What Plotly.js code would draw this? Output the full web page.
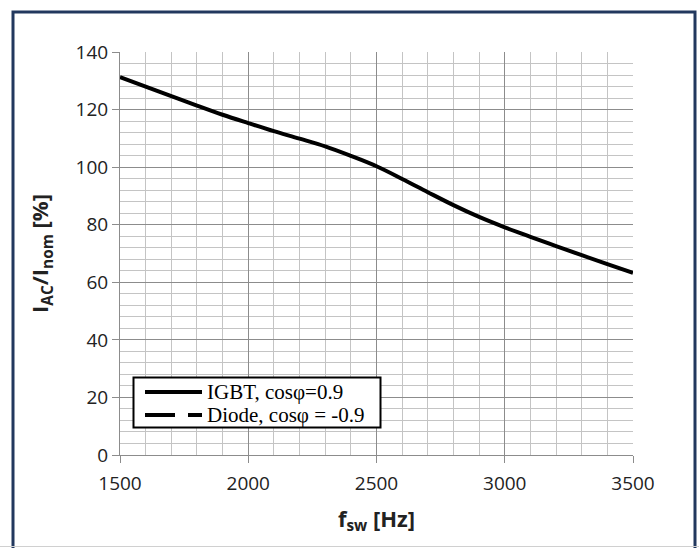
<!DOCTYPE html>
<html>
<head>
<meta charset="utf-8">
<script src="https://cdn.plot.ly/plotly-3.0.1.min.js"></script>
<style>
html,body{margin:0;padding:0;background:#fff;}
#chart{width:699px;height:548px;}
</style>
</head>
<body>
<div id="chart"></div>
<script>
// Data
const fsw = [1500, 1600, 1700, 1800, 1900, 2000, 2100, 2200, 2300, 2400, 2500, 2600, 2700, 2800, 2900, 3000, 3100, 3200, 3300, 3400, 3500];
const igbt = [131.3, 128.0, 124.7, 121.4, 118.2, 115.3, 112.5, 109.9, 107.2, 103.9, 100.3, 95.9, 91.3, 86.8, 82.7, 79.1, 75.8, 72.6, 69.4, 66.3, 63.3];
const diode = fsw.map(() => null); // curve not visible in the reference
const seriesNames = ['IGBT, cos\u03c6=0.9', 'Diode, cos\u03c6 = -0.9'];
const xTicks = [1500, 2000, 2500, 3000, 3500];
const yTicks = [0, 20, 40, 60, 80, 100, 120, 140];

const traces = [
  {x: fsw, y: diode, name: seriesNames[1], mode: 'lines', showlegend: false,
   line: {color: '#000', width: 4, dash: '30px,13px'}},
  {x: fsw, y: igbt, name: seriesNames[0], mode: 'lines', showlegend: false,
   line: {color: '#000', width: 4, shape: 'spline', smoothing: 1}}
];

const L = 120, R = 633, T = 52, B = 455;
const W = R - L, H = B - T;
const px = p => (p - L) / W;
const py = p => (B - p) / H;

// legend (drawn in paper coordinates)
const legBox = {x0: 133.5, x1: 380.5, y0: 377.5, y1: 427.5};
const rowY = [392, 415];
const legendShapes = [
  {type: 'rect', xref: 'paper', yref: 'paper',
   x0: px(legBox.x0), x1: px(legBox.x1), y0: py(legBox.y1), y1: py(legBox.y0),
   line: {color: '#000', width: 2}, fillcolor: '#fff', layer: 'above'},
  {type: 'line', xref: 'paper', yref: 'paper', x0: px(145), x1: px(202), y0: py(rowY[0]), y1: py(rowY[0]),
   line: {color: '#000', width: 4}, layer: 'above'},
  {type: 'line', xref: 'paper', yref: 'paper', x0: px(145), x1: px(175), y0: py(rowY[1]), y1: py(rowY[1]),
   line: {color: '#000', width: 4}, layer: 'above'},
  {type: 'line', xref: 'paper', yref: 'paper', x0: px(188), x1: px(202), y0: py(rowY[1]), y1: py(rowY[1]),
   line: {color: '#000', width: 4}, layer: 'above'}
];
const legendAnns = seriesNames.map((n, i) => ({
  text: n, xref: 'paper', yref: 'paper', x: px(205), y: py(rowY[i]),
  xanchor: 'left', yanchor: 'middle', showarrow: false,
  font: {family: 'Liberation Serif, Times New Roman, serif', size: 21, color: '#000'}
}));

const layout = {
  width: 699, height: 548,
  margin: {l: L, r: 699 - R, t: T, b: 548 - B},
  paper_bgcolor: '#fff', plot_bgcolor: '#fff',
  font: {family: 'Open Sans, Liberation Sans, sans-serif', color: '#222'},
  showlegend: false,
  xaxis: {
    range: [1500, 3500], tickvals: xTicks, ticktext: xTicks.map(String),
    showgrid: true, gridcolor: '#8c8c8c', gridwidth: 1,
    minor: {dtick: 100, tick0: 1500, showgrid: true, gridcolor: '#c4c4c4', gridwidth: 1, ticks: ''},
    ticks: 'outside', ticklen: 7, tickcolor: '#8c8c8c', tickwidth: 1,
    showline: true, linecolor: '#8c8c8c', linewidth: 1, zeroline: false,
    tickfont: {size: 19, color: '#222'}, ticklabelstandoff: 4,
    title: {text: '<b>f<sub>sw</sub> [Hz]</b>', font: {size: 22, color: '#222'}, standoff: 16}
  },
  yaxis: {
    range: [0, 140], tickvals: yTicks, ticktext: yTicks.map(String),
    showgrid: true, gridcolor: '#8c8c8c', gridwidth: 1,
    minor: {dtick: 4, tick0: 0, showgrid: true, gridcolor: '#c4c4c4', gridwidth: 1, ticks: ''},
    ticks: 'outside', ticklen: 7, tickcolor: '#8c8c8c', tickwidth: 1,
    showline: true, linecolor: '#8c8c8c', linewidth: 1, zeroline: false,
    tickfont: {size: 19, color: '#222'},
    title: {text: '<b>I<sub>AC</sub>/I<sub>nom</sub> [%]</b>', font: {size: 22, color: '#222'}, standoff: 20}
  },
  annotations: legendAnns,
  shapes: [
    {type: 'rect', xref: 'paper', yref: 'paper',
     x0: px(13), x1: px(695), y0: py(552), y1: py(12),
     line: {color: '#22385e', width: 3}, fillcolor: 'rgba(0,0,0,0)', layer: 'above'},
    {type: 'line', xref: 'paper', yref: 'paper',
     x0: px(0), x1: px(699), y0: py(546.5), y1: py(546.5),
     line: {color: '#d0d0d0', width: 1}}
  ].concat(legendShapes)
};

Plotly.newPlot('chart', traces, layout, {displayModeBar: false, staticPlot: true});
</script>
</body>
</html>
